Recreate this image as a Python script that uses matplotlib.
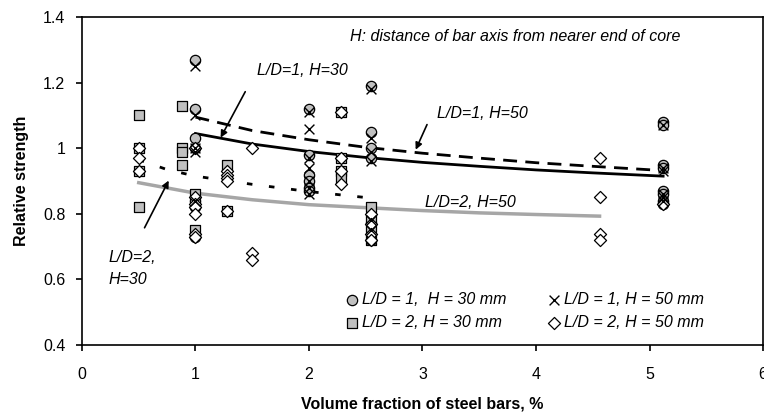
import matplotlib
matplotlib.use("Agg")
import matplotlib.pyplot as plt
from matplotlib.ticker import FormatStrFormatter

plt.rcParams['font.family'] = ['Liberation Sans', 'DejaVu Sans']

# L/D = 1, H = 30 mm (circles)
c_x = [1.0, 1.0, 1.0, 1.0, 1.0, 1.0, 1.0, 2.0, 2.0, 2.0, 2.0, 2.0, 2.0,
       2.55, 2.55, 2.55, 2.55, 2.55, 5.12, 5.12, 5.12, 5.12, 5.12, 5.12, 5.12, 5.12]
c_y = [1.27, 1.12, 1.03, 1.0, 0.84, 0.82, 0.73, 1.12, 0.98, 0.92, 0.90, 0.88, 0.87,
       1.19, 1.05, 1.0, 0.97, 0.72, 1.08, 1.07, 0.95, 0.94, 0.87, 0.86, 0.84, 0.83]

# L/D = 1, H = 50 mm (crosses)
x_x = [1.0, 1.0, 1.0, 1.0, 1.0, 2.0, 2.0, 2.0, 2.0, 2.0, 2.0, 2.0,
       2.55, 2.55, 2.55, 2.55, 2.55, 2.55, 5.12, 5.12, 5.12, 5.12, 5.12, 5.12]
x_y = [1.25, 1.10, 1.0, 0.99, 0.84, 1.11, 1.06, 0.97, 0.94, 0.90, 0.88, 0.86,
       1.18, 1.03, 0.99, 0.96, 0.78, 0.75, 1.07, 0.94, 0.93, 0.86, 0.85, 0.84]

# L/D = 2, H = 30 mm (squares)
s_x = [0.5, 0.5, 0.5, 0.5, 0.88, 0.88, 0.88, 0.88, 1.0, 1.0, 1.28, 1.28,
       2.28, 2.28, 2.28, 2.28, 2.55, 2.55, 2.55, 2.55]
s_y = [1.10, 1.0, 0.93, 0.82, 1.13, 1.0, 0.99, 0.95, 0.86, 0.75, 0.95, 0.81,
       1.11, 0.97, 0.93, 0.91, 0.82, 0.78, 0.76, 0.72]

# L/D = 2, H = 50 mm (diamonds)
d_x = [0.5, 0.5, 0.5, 1.0, 1.0, 1.0, 1.0, 1.0, 1.0, 1.0, 1.28, 1.28, 1.28, 1.28, 1.28,
       1.5, 1.5, 1.5, 2.28, 2.28, 2.28, 2.28, 2.55, 2.55, 2.55, 2.55,
       4.56, 4.56, 4.56, 4.56, 5.12]
d_y = [1.0, 0.97, 0.93, 1.0, 0.85, 0.83, 0.82, 0.80, 0.74, 0.73, 0.93, 0.92, 0.91, 0.90, 0.81,
       1.0, 0.68, 0.66, 1.11, 0.97, 0.93, 0.89, 0.80, 0.77, 0.74, 0.72,
       0.97, 0.85, 0.74, 0.72, 0.83]

# trend lines
t1_x = [1.0, 1.5, 2.0, 2.5, 3.0, 3.5, 4.0, 4.5, 5.12]
t1_y = [1.045, 1.013, 0.990, 0.972, 0.957, 0.945, 0.934, 0.925, 0.915]   # L/D=1, H=30
t2_x = [1.0, 1.5, 2.0, 2.5, 3.0, 3.5, 4.0, 4.5, 5.12]
t2_y = [1.095, 1.054, 1.026, 1.003, 0.985, 0.970, 0.956, 0.945, 0.932]   # L/D=1, H=50
t3_x = [0.5, 0.75, 1.0, 1.5, 2.0, 2.55]
t3_y = [0.965, 0.935, 0.915, 0.89, 0.868, 0.848]                        # L/D=2, H=30
t4_x = [0.5, 1.0, 1.5, 2.0, 2.55, 3.0, 3.5, 4.0, 4.56]
t4_y = [0.895, 0.863, 0.843, 0.828, 0.818, 0.810, 0.803, 0.798, 0.793]  # L/D=2, H=50

labels = ['L/D = 1,  H = 30 mm', 'L/D = 1, H = 50 mm',
          'L/D = 2, H = 30 mm', 'L/D = 2, H = 50 mm']

fig = plt.figure(figsize=(7.64, 4.15), dpi=100)
ax = fig.add_axes([0.1073, 0.1687, 0.8914, 0.790])

gray = '#c0c0c0'
ax.plot(t4_x, t4_y, color='#a6a6a6', lw=2.5, zorder=2)
ax.plot(t1_x, t1_y, color='black', lw=2, zorder=2)
ax.plot(t2_x, t2_y, color='black', lw=2, dashes=(5, 3), zorder=2)
ax.plot(t3_x, t3_y, color='black', lw=2, dashes=(2, 6), zorder=2)

hs = ax.scatter(s_x, s_y, marker='s', s=55, facecolor=gray, edgecolor='black', lw=0.9, zorder=3)
hc = ax.scatter(c_x, c_y, marker='o', s=55, facecolor=gray, edgecolor='black', lw=0.9, zorder=3)
hd = ax.scatter(d_x, d_y, marker='D', s=38, facecolor='white', edgecolor='black', lw=0.9, zorder=4)
hx = ax.scatter(x_x, x_y, marker='x', s=50, color='black', lw=1.0, zorder=5)

ax.legend([hc, hs, hx, hd], [labels[0], labels[2], labels[1], labels[3]], ncol=2,
          loc='lower left', bbox_to_anchor=(0.385, 0.045), frameon=False,
          prop={'size': 11.5, 'style': 'italic'}, borderpad=0, borderaxespad=0,
          handletextpad=0.1, columnspacing=2.5, labelspacing=0.5, handlelength=1.0)

tkw = dict(fontsize=11.5, style='italic')
ax.text(3.82, 1.34, 'H: distance of bar axis from nearer end of core', ha='center', va='center', **tkw)
ax.text(1.94, 1.238, 'L/D=1, H=30', ha='center', va='center', **tkw)
ax.annotate('', xy=(1.21, 1.025), xytext=(1.45, 1.18),
            arrowprops=dict(arrowstyle='-|>', color='black', lw=1.2, mutation_scale=10))
ax.text(3.53, 1.107, 'L/D=1, H=50', ha='center', va='center', **tkw)
ax.annotate('', xy=(2.93, 0.988), xytext=(3.05, 1.08),
            arrowprops=dict(arrowstyle='-|>', color='black', lw=1.2, mutation_scale=10))
ax.text(3.42, 0.835, 'L/D=2, H=50', ha='center', va='center', **tkw)
ax.text(0.23, 0.634, 'L/D=2,\nH=30', ha='left', va='center', linespacing=1.6, **tkw)
ax.annotate('', xy=(0.775, 0.909), xytext=(0.54, 0.75),
            arrowprops=dict(arrowstyle='-|>', color='black', lw=1.2, mutation_scale=10))

ax.set_xlim(0, 6)
ax.set_ylim(0.4, 1.4)
ax.set_xticks(range(7))
ax.set_yticks([0.4, 0.6, 0.8, 1.0, 1.2, 1.4])
ax.yaxis.set_major_formatter(FormatStrFormatter('%g'))
ax.tick_params(direction='out', labelsize=11.5, width=1.2, length=4)
ax.tick_params(axis='x', pad=12)
ax.tick_params(axis='y', pad=8)
for sp in ax.spines.values():
    sp.set_linewidth(1.2)
ax.set_xlabel('Volume fraction of steel bars, %', fontsize=11.5, fontweight='bold', labelpad=10)
ax.set_ylabel('Relative strength', fontsize=11.5, fontweight='bold', labelpad=10)

fig.savefig('out.png', dpi=100)
